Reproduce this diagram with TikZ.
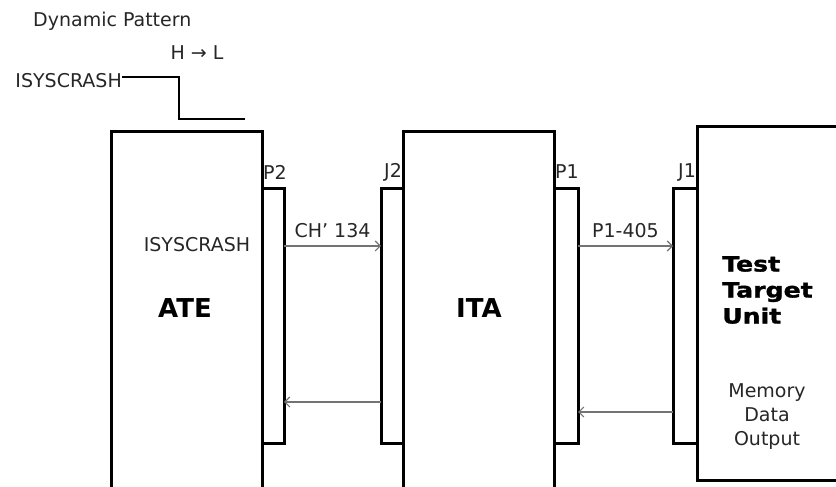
\documentclass[tikz,border=0pt]{standalone}
\usepackage{fontspec}
\setmainfont{DejaVu Sans}
\newfontfamily\ttufont{DejaVu Sans}[FakeStretch=1.2, FakeBold=1.5]
\usetikzlibrary{arrows.meta,positioning}
\tikzset{
  box/.style={draw, line width=3pt, inner sep=0pt, outer sep=0pt, anchor=north west},
  lbl/.style={inner sep=0pt, font=\fontsize{19}{24}\selectfont, text=black!85},
  big/.style={inner sep=0pt, font=\fontsize{26}{30}\selectfont\bfseries},
  arr/.style={-{Straight Barb[length=5pt,width=10pt]}, line width=1.1pt, draw=black!55},
  wave/.style={line width=2pt},
}
\begin{document}
\begin{tikzpicture}[x=1pt, y=1pt, node distance=4pt]
\clip (0,0) rectangle (836,487);
% units and connectors
\node[box, minimum width=151pt, minimum height=380pt] (ate) at (111,355) {};
\node[box, minimum width=22pt, minimum height=255pt] (p2) at (262,298) {};
\node[box, minimum width=22pt, minimum height=255pt] (j2) at (381,298) {};
\node[box, minimum width=151pt, minimum height=380pt] (ita) at (403,355) {};
\node[box, minimum width=24pt, minimum height=255pt] (p1) at (554,298) {};
\node[box, minimum width=24pt, minimum height=255pt] (j1) at (673,298) {};
\node[box, minimum width=160pt, minimum height=354pt] (ttu) at (697,360) {};
% texts
\node[lbl, anchor=west] (dyn) at (33,466) {Dynamic Pattern};
\node[lbl] (hl) at (197,434) {H → L};
\node[lbl, anchor=east] (sigl) at (122,406) {ISYSCRASH};
\node[lbl] (p2l) at (275,315) {P2};
\node[lbl] (j2l) at (393,315) {J2};
\node[lbl] (p1l) at (567,315) {P1};
\node[lbl] (j1l) at (687,315) {J1};
\node[lbl] (sigi) at (197,242) {ISYSCRASH};
\node[big] (atel) at (185,178.5) {ATE};
\node[big] (ital) at (479,178.5) {ITA};
\node[lbl, font=\ttufont\fontsize{21}{26}\selectfont\bfseries, text=black, align=left, anchor=west] (ttul) at (722,197) {Test\\Target\\Unit};
\node[lbl, align=center] (mem) at (767,70) {Memory\\Data\\Output};
% signals
\coordinate (lo) at (245,368);
\draw[wave] ([yshift=4pt]sigl.east) -- ++(57,0) |- (lo);
\draw[arr] ([yshift=70.5pt]p2.east) -- node[lbl, above=8pt] (ch) {CH’ 134} ([yshift=70.5pt]j2.west);
\draw[arr] ([yshift=-85.5pt]j2.west) -- ([yshift=-85.5pt]p2.east);
\draw[arr] ([yshift=70.5pt]p1.east) -- node[lbl, above=8pt] (pin) {P1-405} ([yshift=70.5pt]j1.west);
\draw[arr] ([yshift=-95.5pt]j1.west) -- ([yshift=-95.5pt]p1.east);
\end{tikzpicture}
\end{document}
